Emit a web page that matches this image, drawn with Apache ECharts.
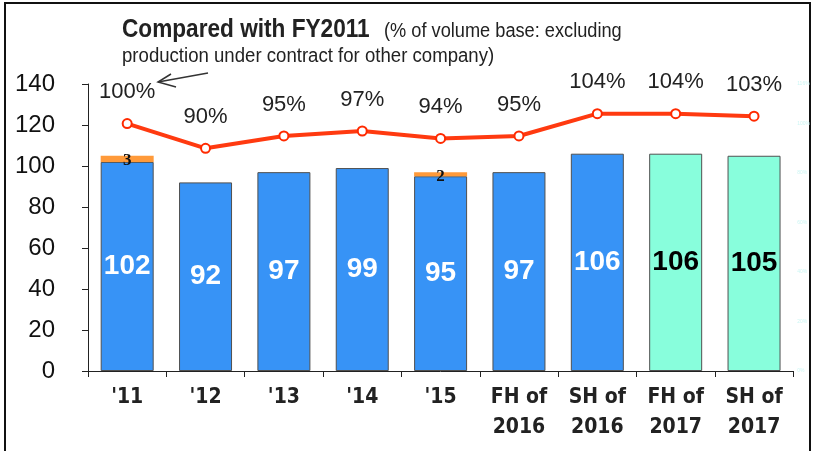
<!DOCTYPE html>
<html>
<head>
<meta charset="utf-8">
<script src="https://cdn.jsdelivr.net/npm/echarts@6/dist/echarts.min.js"></script>
<style>
  html, body { margin: 0; padding: 0; background: #fff; }
  #chart { width: 813px; height: 451px; }
</style>
</head>
<body>
<div id="chart"></div>
<script>
// categories on the x axis
var categories = ["'11", "'12", "'13", "'14", "'15", "FH of\n2016", "SH of\n2016", "FH of\n2017", "SH of\n2017"];
// own-brand volume (index)
var baseVolume = [102, 92, 97, 99, 95, 97, 106, 106, 105];
// production under contract for other company
var contractVolume = [3, null, null, null, 2, null, null, null, null];
// compared with FY2011 (%)
var ratioPct = [100, 90, 95, 97, 94, 95, 104, 104, 103];
// first index of the plan (green) bars
var planStart = 7;

var narrow = "'Liberation Sans Narrow', 'DejaVu Sans Condensed', 'Arial Narrow', sans-serif";
var arial = "'Liberation Sans', Arial, sans-serif";

var chart = echarts.init(document.getElementById('chart'));

var baseData = baseVolume.map(function (v, i) {
    var plan = i >= planStart;
    return {
        value: v,
        itemStyle: {color: plan ? '#88FEDC' : '#3793F6'},
        label: {color: plan ? '#000' : '#fff'}
    };
});

chart.setOption({
    animation: false,
    grid: {left: 88, right: 16, top: 84, bottom: 80},
    xAxis: {
        type: 'category',
        data: categories,
        axisLine: {lineStyle: {color: '#222', width: 1}},
        axisTick: {show: true, length: 6, lineStyle: {color: '#222'}},
        axisLabel: {
            fontFamily: narrow, fontSize: 21, fontWeight: 'bold', color: '#222',
            lineHeight: 30, margin: 12
        }
    },
    yAxis: [{
        type: 'value',
        min: 0, max: 140, interval: 20,
        axisLine: {show: true, lineStyle: {color: '#222'}},
        axisTick: {show: true, inside: false, length: 6, lineStyle: {color: '#222'}},
        splitLine: {show: false},
        axisLabel: {fontFamily: arial, fontSize: 24, color: '#111', margin: 33}
    }, {
        type: 'value',
        min: 0, max: 116, interval: 20,
        axisLine: {show: false},
        axisTick: {show: false},
        splitLine: {show: false},
        axisLabel: {fontSize: 5, color: '#cdf6f4', margin: 4, formatter: '{value}%'}
    }],
    series: [{
        type: 'bar',
        stack: 'vol',
        barWidth: 53,
        data: baseData,
        itemStyle: {borderColor: '#505050', borderWidth: 1},
        label: {
            show: true, position: 'inside',
            fontFamily: arial, fontSize: 28, fontWeight: 'bold'
        }
    }, {
        type: 'bar',
        stack: 'vol',
        barWidth: 53,
        data: contractVolume,
        itemStyle: {color: '#FF9A3A'},
        label: {
            show: true, position: 'inside', offset: [0, 2],
            fontFamily: "'Liberation Serif', 'DejaVu Serif', serif", fontSize: 17, fontWeight: 'bold', color: '#111'
        }
    }, {
        type: 'line',
        yAxisIndex: 1,
        data: ratioPct,
        symbol: 'circle',
        symbolSize: 9,
        itemStyle: {color: '#fff', borderColor: '#FF2A00', borderWidth: 2},
        lineStyle: {color: '#FF3A10', width: 4},
        label: {
            show: true, position: 'top', distance: 15,
            fontFamily: arial, fontSize: 22, color: '#222',
            formatter: '{c}%'
        },
        z: 5
    }],
    graphic: [{
        type: 'rect',
        shape: {x: 5, y: 3, width: 805, height: 460},
        style: {fill: null, stroke: '#111', lineWidth: 2},
        silent: true
    }, {
        type: 'text',
        x: 122, y: 17, scaleX: 0.87,
        style: {text: 'Compared with FY2011', font: 'bold 26px ' + arial, fill: '#222'}
    }, {
        type: 'text',
        x: 384, y: 21, scaleX: 0.91,
        style: {text: '(% of volume base: excluding', font: '20px ' + arial, fill: '#222'}
    }, {
        type: 'text',
        x: 122, y: 46, scaleX: 0.93,
        style: {text: 'production under contract for other company)', font: '20px ' + arial, fill: '#222'}
    }, {
        type: 'line',
        shape: {x1: 208, y1: 73, x2: 158, y2: 82},
        style: {stroke: '#333', lineWidth: 1.5}
    }, {
        type: 'polyline',
        shape: {points: [[171, 74], [158, 82], [176, 87]]},
        style: {stroke: '#333', lineWidth: 1.5, fill: null}
    }]
});
</script>
</body>
</html>
